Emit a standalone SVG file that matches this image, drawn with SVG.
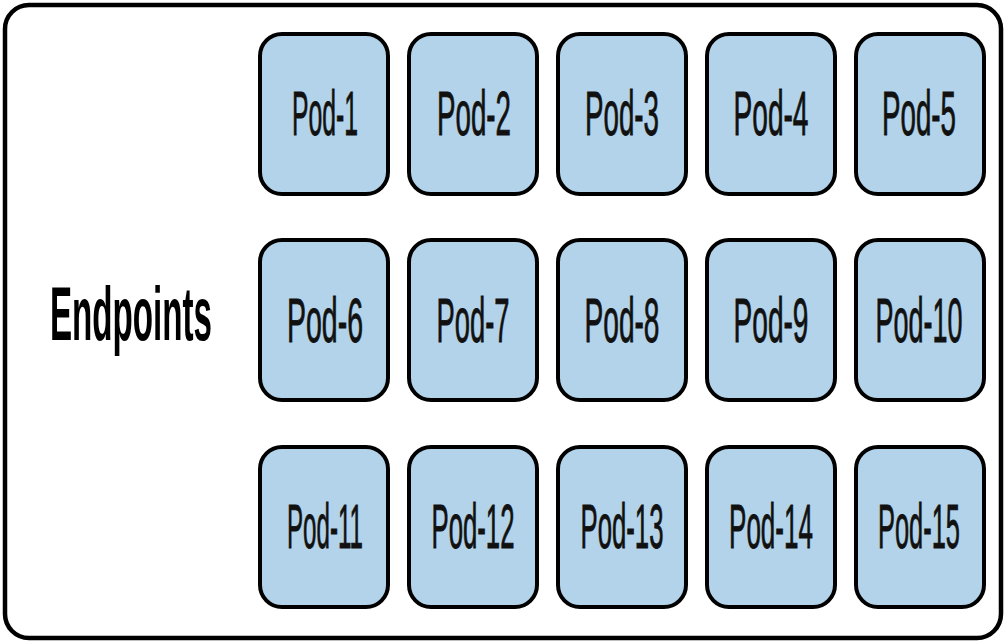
<svg xmlns="http://www.w3.org/2000/svg" width="1008" height="643" viewBox="0 0 1008 643">
<style>
.frame{fill:#ffffff;stroke:#000000;stroke-width:4.5}
.pod rect{fill:#b3d3ea;stroke:#000000;stroke-width:4}
.pod text{font-family:"Liberation Sans",Arial,sans-serif;font-size:28px;fill:#111111;text-anchor:middle;stroke:#111111;stroke-width:0.4}
.label{font-family:"Liberation Sans",Arial,sans-serif;font-size:36px;font-weight:bold;fill:#000000}
</style>
<rect width="1008" height="643" fill="#ffffff"/>
<rect class="frame" x="5" y="5" width="996" height="633" rx="24"/>
<g id="endpoints-label"><text class="label" transform="translate(50,340) scale(1,2.13)" x="0" y="0" textLength="162" lengthAdjust="spacingAndGlyphs">Endpoints</text></g>
<g id="connectors"></g>
<g id="pod-1" class="pod"><rect x="260" y="34" width="128" height="160" rx="22"/><text transform="translate(325,135) scale(1,2.245)" textLength="66" lengthAdjust="spacingAndGlyphs">Pod-1</text></g>
<g id="pod-2" class="pod"><rect x="409" y="34" width="128" height="160" rx="22"/><text transform="translate(474,135) scale(1,2.245)" textLength="74" lengthAdjust="spacingAndGlyphs">Pod-2</text></g>
<g id="pod-3" class="pod"><rect x="558" y="34" width="128" height="160" rx="22"/><text transform="translate(622,135) scale(1,2.245)" textLength="74" lengthAdjust="spacingAndGlyphs">Pod-3</text></g>
<g id="pod-4" class="pod"><rect x="707" y="34" width="128" height="160" rx="22"/><text transform="translate(771,135) scale(1,2.245)" textLength="75" lengthAdjust="spacingAndGlyphs">Pod-4</text></g>
<g id="pod-5" class="pod"><rect x="856" y="34" width="128" height="160" rx="22"/><text transform="translate(919,135) scale(1,2.245)" textLength="74" lengthAdjust="spacingAndGlyphs">Pod-5</text></g>
<g id="pod-6" class="pod"><rect x="260" y="240" width="128" height="160" rx="22"/><text transform="translate(325,342) scale(1,2.245)" textLength="76" lengthAdjust="spacingAndGlyphs">Pod-6</text></g>
<g id="pod-7" class="pod"><rect x="409" y="240" width="128" height="160" rx="22"/><text transform="translate(473,342) scale(1,2.245)" textLength="73" lengthAdjust="spacingAndGlyphs">Pod-7</text></g>
<g id="pod-8" class="pod"><rect x="558" y="240" width="128" height="160" rx="22"/><text transform="translate(622,342) scale(1,2.245)" textLength="75" lengthAdjust="spacingAndGlyphs">Pod-8</text></g>
<g id="pod-9" class="pod"><rect x="707" y="240" width="128" height="160" rx="22"/><text transform="translate(771,342) scale(1,2.245)" textLength="75" lengthAdjust="spacingAndGlyphs">Pod-9</text></g>
<g id="pod-10" class="pod"><rect x="856" y="240" width="128" height="160" rx="22"/><text transform="translate(919,342) scale(1,2.245)" textLength="87" lengthAdjust="spacingAndGlyphs">Pod-10</text></g>
<g id="pod-11" class="pod"><rect x="260" y="447" width="128" height="160" rx="22"/><text transform="translate(325,548) scale(1,2.245)" textLength="76" lengthAdjust="spacingAndGlyphs">Pod-11</text></g>
<g id="pod-12" class="pod"><rect x="409" y="447" width="128" height="160" rx="22"/><text transform="translate(473,548) scale(1,2.245)" textLength="83" lengthAdjust="spacingAndGlyphs">Pod-12</text></g>
<g id="pod-13" class="pod"><rect x="558" y="447" width="128" height="160" rx="22"/><text transform="translate(622,548) scale(1,2.245)" textLength="83" lengthAdjust="spacingAndGlyphs">Pod-13</text></g>
<g id="pod-14" class="pod"><rect x="707" y="447" width="128" height="160" rx="22"/><text transform="translate(771,548) scale(1,2.245)" textLength="84" lengthAdjust="spacingAndGlyphs">Pod-14</text></g>
<g id="pod-15" class="pod"><rect x="856" y="447" width="128" height="160" rx="22"/><text transform="translate(919,548) scale(1,2.245)" textLength="82" lengthAdjust="spacingAndGlyphs">Pod-15</text></g>
</svg>
